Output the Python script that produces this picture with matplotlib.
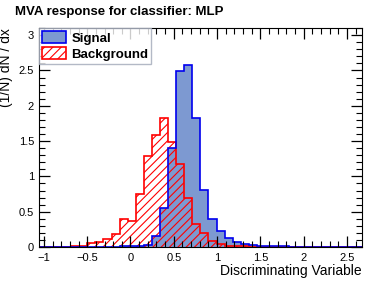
import numpy as np
import matplotlib
matplotlib.use("Agg")
import matplotlib.pyplot as plt
from matplotlib.patches import Patch
from matplotlib.ticker import MultipleLocator, FuncFormatter

plt.rcParams["font.family"] = ["Liberation Sans", "DejaVu Sans"]
plt.rcParams["hatch.linewidth"] = 0.8

# histogram range and binning (40 bins)
x_lo, x_hi, n_bins = -1.058, 2.673, 40

signal = [0, 0, 0, 0, 0, 0, 0, 0, 0, 0.005,
          0.01, 0.01, 0.02, 0.03, 0.15, 0.55, 1.40, 2.49, 2.58, 1.82,
          0.81, 0.39, 0.22, 0.13, 0.07, 0.04, 0.025, 0.015, 0.01, 0.01,
          0.008, 0.006, 0.005, 0.004, 0.003, 0.002, 0.002, 0.001, 0.001, 0]
background = [0, 0.002, 0.004, 0.006, 0.01, 0.02, 0.05, 0.075, 0.11, 0.19,
              0.39, 0.37, 0.75, 1.29, 1.59, 1.83, 1.49, 1.17, 0.70, 0.33,
              0.20, 0.09, 0.04, 0.02, 0.01, 0.008, 0.006, 0.005, 0.004, 0.004,
              0.003, 0.003, 0.002, 0.002, 0.002, 0.002, 0.001, 0.001, 0.001, 0]

edges = np.linspace(x_lo, x_hi, n_bins + 1)

sig_fill = "#7d99d1"
sig_line = "#0000ee"
bkg_line = "#ff0000"


def fmt(v, pos):
    return ("%g" % v).replace("-", "\u2212")


fig = plt.figure(figsize=(3.81, 2.81), dpi=100)
ax = fig.add_axes([0.102, 0.121, 0.848, 0.779])

ax.stairs(signal, edges, fill=True, facecolor=sig_fill, edgecolor="none")
ax.stairs(background, edges, fill=True, facecolor="none", edgecolor=bkg_line,
          hatch="////", linewidth=0)
ax.stairs(background, edges, color=bkg_line, linewidth=1.2, baseline=None)
ax.stairs(signal, edges, color=sig_line, linewidth=1.2, baseline=None)

ax.set_xlim(x_lo, x_hi)
ax.set_ylim(0, 3.1)

ax.xaxis.set_major_locator(MultipleLocator(0.5))
ax.xaxis.set_minor_locator(MultipleLocator(0.1))
ax.yaxis.set_major_locator(MultipleLocator(0.5))
ax.yaxis.set_minor_locator(MultipleLocator(0.1))
ax.xaxis.set_major_formatter(FuncFormatter(fmt))
ax.yaxis.set_major_formatter(FuncFormatter(fmt))
ax.tick_params(which="both", direction="in", top=True, right=True, labelsize=8)
ax.tick_params(which="major", length=8, width=0.9)
ax.tick_params(which="minor", length=4, width=0.8)
ax.tick_params(axis="x", pad=4)

ax.set_xlabel("Discriminating Variable", fontsize=10, loc="right", labelpad=1)
ax.set_ylabel("(1/N) dN / dx", fontsize=10, loc="top", labelpad=4)

fig.text(0.04, 0.98, "MVA response for classifier: MLP", fontsize=9.5,
         fontweight="bold", va="top", ha="left")

handles = [
    Patch(facecolor=sig_fill, edgecolor=sig_line, linewidth=1.2, label="Signal"),
    Patch(facecolor="white", edgecolor=bkg_line, hatch="////", linewidth=1.2,
          label="Background"),
]
leg = ax.legend(handles=handles, loc="upper left", bbox_to_anchor=(0, 1),
                borderaxespad=0, frameon=True, fancybox=False,
                prop={"weight": "bold", "size": 9.5}, handlelength=1.8,
                handleheight=1.0, handletextpad=0.4, borderpad=0.25,
                labelspacing=0.2)
leg.get_frame().set_edgecolor("#a0a8b8")
leg.get_frame().set_linewidth(1.0)

fig.savefig("out.png", dpi=100)
